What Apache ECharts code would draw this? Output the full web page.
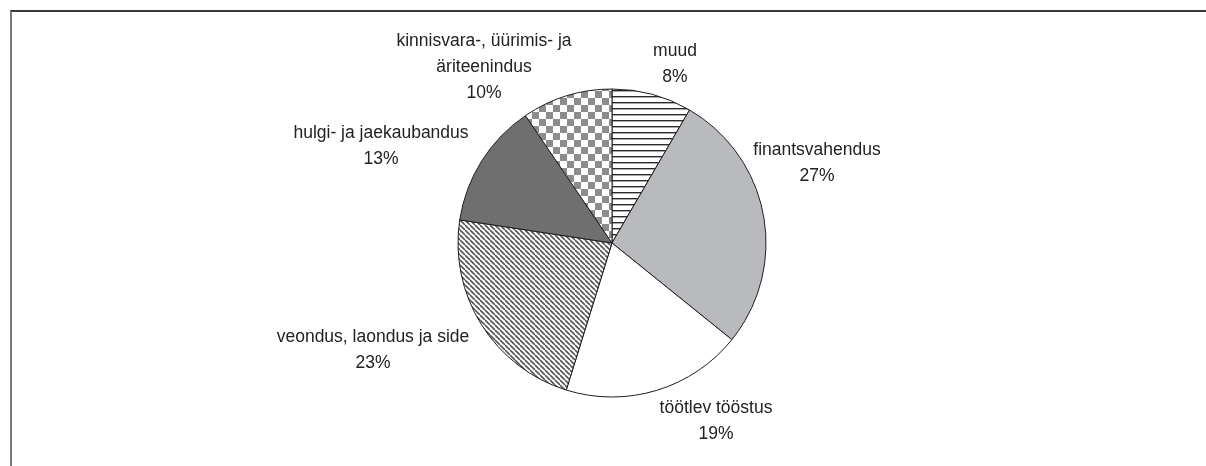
<!DOCTYPE html>
<html>
	<head>
		<meta charset="UTF-8">
		<title></title>
	</head>
	<body style="margin: 0; background: #fff">
		<div id="frame" style="position: absolute; left: 10px; top: 10px; width: 1196px; height: 456px; border-top: 2px solid #3a3a3a; border-left: 2px solid #7a7a7a"></div>
		<div id="container" style="position: absolute; left: 0; top: 0; width: 1206px; height: 466px"></div>
		<script src="https://cdn.jsdelivr.net/npm/echarts@6/dist/echarts.min.js" type="text/javascript"></script>
		<script type="text/javascript">
			// slices clockwise from 12 o'clock, shares in %
			var names = ['muud', 'finantsvahendus', 'töötlev tööstus', 'veondus, laondus ja side', 'hulgi- ja jaekaubandus', 'kinnisvara-, üürimis- ja\näriteenindus'];
			var shares = [8.4, 27.4, 19.0, 22.6, 13.1, 9.5];

			// label block centres, the way the original spreadsheet placed them
			var labelPos = [[675, 64], [817, 163], [716, 421], [373, 350], [381, 146], [484, 67]];

			function tile(w, h, draw) {
			    var c = document.createElement('canvas');
			    c.width = w;
			    c.height = h;
			    var ctx = c.getContext('2d');
			    ctx.fillStyle = '#fff';
			    ctx.fillRect(0, 0, w, h);
			    draw(ctx);
			    return { image: c, repeat: 'repeat' };
			}

			var hStripes = tile(6, 6, function (ctx) {
			    ctx.fillStyle = '#2a2a2a';
			    ctx.fillRect(0, 0, 6, 1.4);
			});
			var diagStripes = tile(5, 5, function (ctx) {
			    ctx.strokeStyle = '#555';
			    ctx.lineWidth = 1.6;
			    for (var k = -1; k <= 1; k++) {
			        ctx.beginPath();
			        ctx.moveTo(0, k * 5);
			        ctx.lineTo(5, 5 + k * 5);
			        ctx.stroke();
			    }
			});
			var checker = tile(14, 14, function (ctx) {
			    ctx.fillStyle = '#8c8c8c';
			    ctx.fillRect(0, 0, 7, 7);
			    ctx.fillRect(7, 7, 7, 7);
			});

			var fills = [hStripes, '#b9babe', '#ffffff', diagStripes, '#6f6f70', checker];

			var dom = document.getElementById('container');
			var myChart = echarts.init(dom);
			var option = {
			    animation: false,
			    series: [
			        {
			            type: 'pie',
			            center: [612, 243],
			            radius: 154,
			            startAngle: 90,
			            clockwise: true,
			            avoidLabelOverlap: false,
			            data: names.map(function (n, i) {
			                return { name: n, value: shares[i], itemStyle: { color: fills[i] } };
			            }),
			            itemStyle: {
			                borderColor: '#1e1e1e',
			                borderWidth: 1
			            },
			            label: {
			                position: 'inside',
			                formatter: function (p) {
			                    return p.name + '\n' + Math.round(p.value) + '%';
			                },
			                color: '#222',
			                fontFamily: 'Liberation Sans, Arial, sans-serif',
			                fontSize: 17.5,
			                lineHeight: 26,
			                align: 'center'
			            },
			            labelLine: { show: false },
			            labelLayout: function (params) {
			                var p = labelPos[params.dataIndex];
			                return { x: p[0], y: p[1], align: 'center', verticalAlign: 'middle' };
			            },
			            emphasis: { disabled: true }
			        }
			    ]
			};
			myChart.setOption(option);
		</script>
	</body>
</html>
